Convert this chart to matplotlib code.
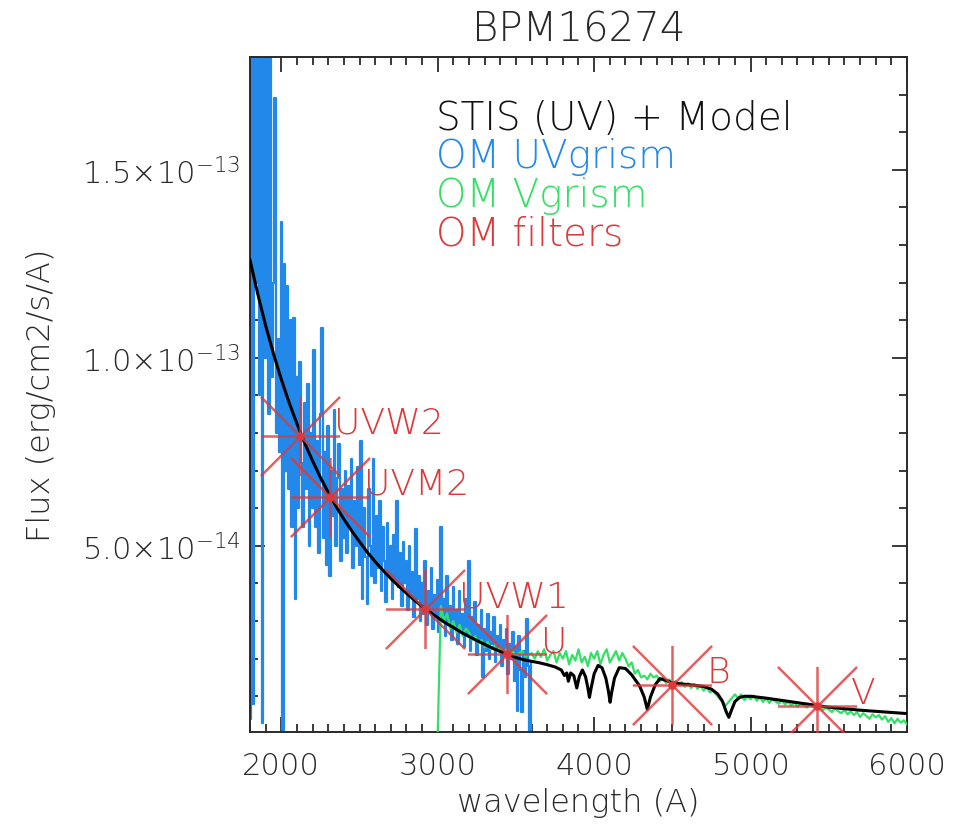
#!/usr/bin/env python

import matplotlib
matplotlib.use("Agg")
import matplotlib.pyplot as plt
from matplotlib.path import Path
from matplotlib.ticker import MultipleLocator, FixedLocator, FixedFormatter


OUT_FILE = "out.png"

FLUX_UNIT = 1e-14

# OM UV grism, 10 A bins starting at 1800 A, flux in units of 1e-14
UVGRISM_START = 1800
UVGRISM_STEP = 10
UVGRISM_FLUX = [
    0.4, 19.0, 0.8, 19.0, 12.0, 19.0, 9.0, 19.0, 0.3, 19.0,
    10.0, 19.0, 8.5, 19.0, 9.5, 12.0, 16.9, 8.0, 10.5, 7.5,
    13.6, 0.1, 12.5, 7.0, 11.9, 6.5, 11.0, 5.5, 11.05, 3.6,
    9.5, 6.0, 9.9, 7.2, 5.5, 8.8, 6.5, 9.3, 5.0, 8.0,
    6.0, 10.2, 5.5, 7.8, 4.8, 8.5, 10.8, 5.2, 7.5, 4.5,
    8.2, 4.2, 7.0, 5.8, 8.6, 5.0, 6.8, 7.7, 4.6, 6.5,
    5.2, 7.0, 4.8, 6.6, 5.5, 7.3, 4.4, 6.2, 5.0, 7.1,
    4.5, 7.8, 3.6, 6.0, 4.7, 3.45, 6.5, 5.0, 4.2, 7.3,
    4.0, 5.8, 4.4, 6.2, 3.8, 5.5, 4.6, 3.5, 5.6, 4.2,
    5.0, 3.6, 5.3, 4.0, 6.2, 3.9, 4.8, 3.4, 5.1, 4.0,
    4.6, 3.3, 5.0, 3.7, 4.3, 3.1, 5.45, 3.6, 4.2, 3.0,
    4.0, 3.2, 4.6, 2.9, 3.8, 3.3, 4.4, 2.8, 3.7, 3.1,
    4.1, 2.7, 5.5, 3.0, 3.6, 2.6, 4.2, 2.9, 3.4, 2.5,
    3.9, 2.8, 3.3, 2.4, 3.8, 2.7, 3.2, 2.3, 3.6, 2.6,
    4.6, 2.2, 3.1, 2.6, 3.5, 2.1, 2.9, 2.5, 3.3, 1.5,
    2.8, 2.2, 3.2, 2.0, 2.7, 2.4, 3.1, 1.9, 2.6, 2.2,
    2.9, 1.8, 2.5, 2.1, 2.8, 1.6, 2.4, 2.0, 2.7, 1.4,
    2.3, 0.6, 2.6, 1.7, 0.57, 2.2, 1.5, 3.05, 1.8, 0.0,
    1.9,
]

# OM V grism, 20 A bins starting at 3000 A
VGRISM_START = 3000
VGRISM_STEP = 20
VGRISM_FLUX = [
    0.0, 3.4, 3.0, 3.2, 2.8, 3.0, 2.7, 2.9, 2.6, 2.8,
    2.7, 2.5, 2.6, 2.4, 2.5, 2.3, 2.45, 2.25, 2.35, 2.2,
    2.3, 2.15, 2.25, 2.1, 2.2, 2.05, 2.15, 2.2, 2.05, 2.1,
    2.15, 2.0, 2.2, 2.05, 2.25, 1.95, 2.1, 2.2, 1.9, 2.15,
    2.0, 2.2, 1.85, 2.1, 1.95, 2.25, 1.9, 2.05, 1.8, 2.15,
    2.0, 2.2, 1.85, 2.1, 2.25, 1.9, 2.05, 2.2, 1.95, 2.15,
    2.0, 1.8, 1.9, 1.6, 1.7, 1.5, 1.55, 1.45, 1.6, 1.5,
    1.55, 1.4, 1.5, 1.35, 1.45, 1.3, 1.4, 1.32, 1.38, 1.25,
    1.35, 1.22, 1.32, 1.2, 1.28, 1.15, 1.25, 1.1, 1.15, 1.05,
    0.95, 0.85, 0.75, 0.85, 0.95, 1.05, 0.95, 1.05, 0.9, 1.0,
    0.92, 1.02, 0.88, 0.97, 0.85, 0.95, 0.82, 0.92, 0.86, 0.8,
    0.9, 0.78, 0.86, 0.75, 0.84, 0.72, 0.8, 0.76, 0.7, 0.8,
    0.72, 0.66, 0.78, 0.62, 0.7, 0.65, 0.58, 0.68, 0.6, 0.55,
    0.64, 0.52, 0.6, 0.5, 0.58, 0.45, 0.55, 0.48, 0.4, 0.52,
    0.44, 0.5, 0.38, 0.47, 0.32, 0.42, 0.28, 0.4, 0.3, 0.36,
    0.25,
]

# STIS + white dwarf model
MODEL_WAVE = [
    1800, 1850, 1900, 1950, 2000, 2050, 2100, 2150, 2200, 2250,
    2300, 2350, 2400, 2450, 2500, 2550, 2600, 2650, 2700, 2750,
    2800, 2850, 2900, 2950, 3000, 3050, 3100, 3150, 3200, 3250,
    3300, 3350, 3400, 3450, 3500, 3550, 3600, 3650, 3700, 3750,
    3790, 3810, 3825, 3835, 3850, 3870, 3889, 3905, 3925, 3945,
    3960, 3970, 3980, 4000, 4025, 4050, 4075, 4092, 4102, 4112,
    4130, 4160, 4200, 4240, 4290, 4320, 4340, 4360, 4390, 4420,
    4460, 4500, 4550, 4600, 4650, 4700, 4750, 4790, 4820, 4845,
    4861, 4877, 4900, 4930, 4960, 5000, 5100, 5200, 5300, 5400,
    5500, 5600, 5700, 5800, 5900, 6000,
]
MODEL_FLUX = [
    12.6, 11.69, 10.86, 10.11, 9.43, 8.81, 8.25, 7.73, 7.26, 6.82,
    6.42, 6.05, 5.71, 5.40, 5.11, 4.83, 4.58, 4.35, 4.13, 3.93,
    3.74, 3.56, 3.39, 3.24, 3.09, 2.95, 2.83, 2.70, 2.59, 2.48,
    2.38, 2.28, 2.19, 2.11, 2.03, 1.97, 1.93, 1.89, 1.84, 1.78,
    1.70, 1.55, 1.62, 1.40, 1.62, 1.55, 1.22, 1.52, 1.70, 1.52,
    1.22, 0.97, 1.20, 1.60, 1.82, 1.76, 1.48, 1.12, 0.84, 1.10,
    1.48, 1.76, 1.74, 1.57, 1.28, 0.98, 0.65, 0.98, 1.30, 1.47,
    1.42, 1.36, 1.33, 1.31, 1.29, 1.26, 1.19, 1.06, 0.87, 0.58,
    0.44, 0.62, 0.86, 0.97, 1.00, 1.00, 0.95, 0.89, 0.83, 0.77,
    0.71, 0.67, 0.63, 0.60, 0.57, 0.54,
]

# OM photometry
FILTER_NAMES = ["UVW2", "UVM2", "UVW1", "U", "B", "V"]
FILTER_WAVE = [2120, 2312, 2919, 3443, 4498, 5425]
FILTER_FLUX = [7.93, 6.31, 3.32, 2.12, 1.29, 0.73]

LEGEND_LINES = ["STIS (UV) + Model", "OM UVgrism", "OM Vgrism", "OM filters"]

BLUE = "#2288ea"
GREEN = "#33e066"
RED = "#dc3a3a"
TEXT_GREY = "#2a2a2a"

FONT = ["DejaVu Sans"]

# IDL style asterisk: the diagonals run to the corners of the box
ASTERISK = Path(
    [(-1, 0), (1, 0), (0, -1), (0, 1), (-1, -1), (1, 1), (-1, 1), (1, -1)],
    [Path.MOVETO, Path.LINETO] * 4,
)


def grid(start, step, n):
    return [start + step * i for i in range(n)]


def scaled(values):
    return [v * FLUX_UNIT for v in values]


def style_axes(ax):
    ax.set_xlim(1800, 6000)
    ax.set_ylim(0.05e-14, 1.8e-13)

    ax.xaxis.set_major_locator(MultipleLocator(1000))
    ax.xaxis.set_minor_locator(MultipleLocator(100))

    yticks = [5e-14, 1e-13, 1.5e-13]
    ax.yaxis.set_major_locator(FixedLocator(yticks))
    ax.yaxis.set_major_formatter(FixedFormatter([
        r"5.0$\times$10$^{-14}$",
        r"1.0$\times$10$^{-13}$",
        r"1.5$\times$10$^{-13}$",
    ]))
    ax.yaxis.set_minor_locator(MultipleLocator(1e-14))

    ax.tick_params(which="both", direction="in", top=True, right=True,
                   colors=TEXT_GREY, width=1.3)
    ax.tick_params(which="major", length=11)
    ax.tick_params(which="minor", length=6)
    ax.tick_params(axis="x", which="major", pad=14, labelsize=22)
    ax.tick_params(axis="y", which="major", pad=7, labelsize=22)

    for spine in ax.spines.values():
        spine.set_color(TEXT_GREY)
        spine.set_linewidth(1.4)

    ax.set_xlabel("wavelength (A)", fontsize=23, color=TEXT_GREY)
    ax.xaxis.set_label_coords(0.5, -0.082)
    ax.set_ylabel("Flux (erg/cm2/s/A)", fontsize=23, color=TEXT_GREY)
    ax.yaxis.set_label_coords(-0.295, 0.5)
    ax.set_title("BPM16274", fontsize=29, color=TEXT_GREY, pad=12)


def main():
    plt.rcParams["font.family"] = FONT
    plt.rcParams["font.weight"] = "light"
    plt.rcParams["axes.titleweight"] = "light"
    plt.rcParams["axes.labelweight"] = "light"
    plt.rcParams["mathtext.fontset"] = "dejavusans"

    fig = plt.figure(figsize=(9.54, 8.28), dpi=100)
    ax = fig.add_axes([250 / 954, 95 / 828, 657 / 954, 675 / 828])

    uv_wave = grid(UVGRISM_START, UVGRISM_STEP, len(UVGRISM_FLUX))
    v_wave = grid(VGRISM_START, VGRISM_STEP, len(VGRISM_FLUX))

    ax.plot(uv_wave, scaled(UVGRISM_FLUX), color=BLUE, lw=1.6,
            drawstyle="steps-mid", zorder=2)
    ax.plot(v_wave, scaled(VGRISM_FLUX), color=GREEN, lw=1.6, zorder=3)
    ax.plot(MODEL_WAVE, scaled(MODEL_FLUX), color="black", lw=2.2, zorder=4)

    ax.plot(FILTER_WAVE, scaled(FILTER_FLUX), linestyle="none",
            marker=ASTERISK, markersize=57, markeredgewidth=1.8,
            markeredgecolor=RED, markerfacecolor="none", alpha=0.8,
            zorder=5)
    ax.plot(FILTER_WAVE, scaled(FILTER_FLUX), linestyle="none",
            marker="o", markersize=5, color=RED, zorder=6)

    for name, w, f in zip(FILTER_NAMES, FILTER_WAVE, scaled(FILTER_FLUX)):
        ax.annotate(name, (w, f), xytext=(34, 13), textcoords="offset pixels",
                    ha="left", va="center", fontsize=26, color=RED, zorder=7)

    colors = ["#111111", BLUE, GREEN, RED]
    for i, (line, c) in enumerate(zip(LEGEND_LINES, colors)):
        ax.text(0.283, 0.91 - i * 0.057, line, transform=ax.transAxes,
                fontsize=28, color=c, ha="left", va="center")

    style_axes(ax)

    fig.savefig(OUT_FILE, dpi=100)
    plt.close(fig)


if __name__ == "__main__":
    main()
